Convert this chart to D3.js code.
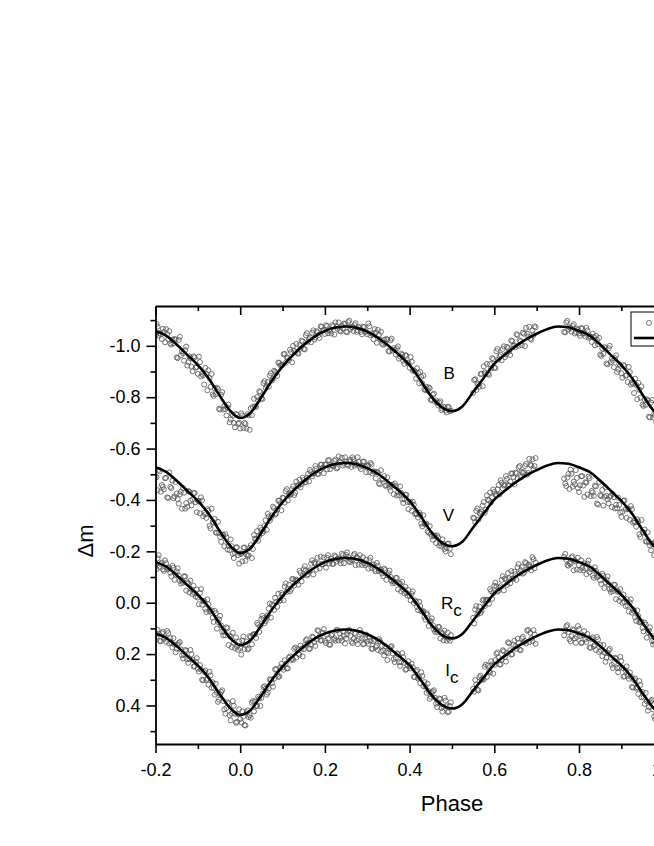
<!DOCTYPE html>
<html>
<head>
<meta charset="utf-8">
<script src="https://cdn.jsdelivr.net/npm/d3@7"></script>
<style>
  html, body { margin: 0; padding: 0; background: #fff; }
  svg { display: block; }
  text { font-family: "Liberation Sans", Arial, Helvetica, sans-serif; fill: #000; }
</style>
</head>
<body>
<svg id="chart" width="654" height="846"></svg>
<script>
// ---------------- DATA ----------------
const xMajor = [-0.2, 0.0, 0.2, 0.4, 0.6, 0.8, 1.0, 1.2];
const xMajorLabels = ["-0.2", "0.0", "0.2", "0.4", "0.6", "0.8", "1.0", "1.2"];
const xMinor = [-0.1, 0.1, 0.3, 0.5, 0.7, 0.9, 1.1];
const yMajor = [-1.0, -0.8, -0.6, -0.4, -0.2, 0.0, 0.2, 0.4];
const yMajorLabels = ["-1.0", "-0.8", "-0.6", "-0.4", "-0.2", "0.0", "0.2", "0.4"];
const yMinor = [-1.1, -0.9, -0.7, -0.5, -0.3, -0.1, 0.1, 0.3, 0.5];

const bands = ["B", "V", "Rc", "Ic"];

// theoretical light-curve (fit) values, sampled in phase
const fitPhase = [-0.200,-0.175,-0.150,-0.125,-0.100,-0.075,-0.050,-0.025,0.000,0.025,0.050,0.075,0.100,0.125,0.150,0.175,0.200,0.225,0.250,0.275,0.300,0.325,0.350,0.375,0.400,0.425,0.450,0.475,0.500,0.525,0.550,0.575,0.600,0.625,0.650,0.675,0.700,0.725,0.750,0.775,0.800,0.825,0.850,0.875,0.900,0.925,0.950,0.975,1.000,1.025,1.050,1.075,1.100,1.125,1.150,1.175,1.200];
const fitB = [-1.058,-1.040,-1.005,-0.965,-0.925,-0.875,-0.810,-0.750,-0.719,-0.740,-0.800,-0.865,-0.920,-0.965,-1.003,-1.035,-1.058,-1.071,-1.075,-1.070,-1.055,-1.032,-1.000,-0.965,-0.925,-0.868,-0.805,-0.762,-0.746,-0.765,-0.820,-0.875,-0.930,-0.965,-0.998,-1.025,-1.047,-1.065,-1.075,-1.072,-1.058,-1.040,-1.005,-0.965,-0.925,-0.875,-0.810,-0.750,-0.719,-0.740,-0.800,-0.865,-0.920,-0.965,-1.003,-1.035,-1.058];
const fitV = [-0.527,-0.509,-0.475,-0.436,-0.396,-0.347,-0.283,-0.224,-0.193,-0.214,-0.273,-0.337,-0.391,-0.436,-0.473,-0.505,-0.527,-0.540,-0.544,-0.539,-0.524,-0.502,-0.470,-0.436,-0.396,-0.340,-0.278,-0.235,-0.220,-0.238,-0.293,-0.347,-0.401,-0.436,-0.468,-0.495,-0.516,-0.534,-0.544,-0.541,-0.527,-0.509,-0.475,-0.436,-0.396,-0.347,-0.283,-0.224,-0.193,-0.214,-0.273,-0.337,-0.391,-0.436,-0.473,-0.505,-0.527];
const fitRc = [-0.158,-0.141,-0.107,-0.069,-0.031,0.016,0.078,0.135,0.165,0.145,0.088,0.026,-0.026,-0.069,-0.105,-0.136,-0.158,-0.170,-0.174,-0.169,-0.155,-0.133,-0.103,-0.069,-0.031,0.023,0.083,0.124,0.139,0.121,0.069,0.016,-0.036,-0.069,-0.101,-0.126,-0.147,-0.164,-0.174,-0.171,-0.158,-0.141,-0.107,-0.069,-0.031,0.016,0.078,0.135,0.165,0.145,0.088,0.026,-0.026,-0.069,-0.105,-0.136,-0.158];
const fitIc = [0.120,0.137,0.169,0.207,0.244,0.291,0.352,0.408,0.437,0.417,0.361,0.300,0.249,0.207,0.171,0.141,0.120,0.108,0.104,0.109,0.123,0.144,0.174,0.207,0.244,0.298,0.356,0.397,0.412,0.394,0.342,0.291,0.240,0.207,0.176,0.151,0.130,0.113,0.104,0.107,0.120,0.137,0.169,0.207,0.244,0.291,0.352,0.408,0.437,0.417,0.361,0.300,0.249,0.207,0.171,0.141,0.120];

// observed points, first group [phase, delta m]
const obsB = [[-0.200,-1.043],[-0.195,-1.075],[-0.190,-1.049],[-0.185,-1.026],[-0.180,-1.054],[-0.175,-1.065],[-0.170,-1.026],[-0.165,-1.009],[-0.160,-1.024],[-0.155,-1.027],
[-0.150,-0.955],[-0.145,-1.023],[-0.140,-0.963],[-0.135,-0.971],[-0.130,-0.983],[-0.125,-0.923],[-0.120,-0.959],[-0.115,-0.919],[-0.110,-0.959],[-0.105,-0.915],
[-0.100,-0.891],[-0.095,-0.937],[-0.090,-0.891],[-0.085,-0.849],[-0.080,-0.891],[-0.075,-0.905],[-0.070,-0.840],[-0.065,-0.811],[-0.060,-0.834],[-0.055,-0.837],
[-0.050,-0.755],[-0.045,-0.810],[-0.040,-0.752],[-0.035,-0.754],[-0.030,-0.760],[-0.025,-0.702],[-0.020,-0.735],[-0.015,-0.700],[-0.010,-0.735],[-0.005,-0.697],
[0.000,-0.678],[0.005,-0.729],[0.010,-0.700],[0.015,-0.678],[0.020,-0.729],[0.025,-0.757],[0.030,-0.762],[0.035,-0.765],[0.040,-0.801],[0.045,-0.823],
[0.050,-0.795],[0.055,-0.855],[0.060,-0.836],[0.065,-0.859],[0.070,-0.884],[0.075,-0.865],[0.080,-0.903],[0.085,-0.894],[0.090,-0.935],[0.095,-0.924],
[0.100,-0.925],[0.105,-0.969],[0.110,-0.955],[0.115,-0.944],[0.120,-0.976],[0.125,-1.000],[0.130,-0.975],[0.135,-0.972],[0.140,-1.003],[0.145,-1.020],
[0.150,-0.988],[0.155,-1.041],[0.160,-1.016],[0.165,-1.032],[0.170,-1.051],[0.175,-1.025],[0.180,-1.057],[0.185,-1.042],[0.190,-1.076],[0.195,-1.059],
[0.200,-1.046],[0.205,-1.077],[0.210,-1.061],[0.215,-1.048],[0.220,-1.076],[0.225,-1.091],[0.230,-1.066],[0.235,-1.059],[0.240,-1.078],[0.245,-1.087],
[0.250,-1.055],[0.255,-1.092],[0.260,-1.065],[0.265,-1.072],[0.270,-1.081],[0.275,-1.054],[0.280,-1.073],[0.285,-1.054],[0.290,-1.075],[0.295,-1.054],
[0.300,-1.045],[0.305,-1.076],[0.310,-1.049],[0.315,-1.025],[0.320,-1.052],[0.325,-1.062],[0.330,-1.024],[0.335,-1.008],[0.340,-1.023],[0.345,-1.027],
[0.350,-0.980],[0.355,-1.021],[0.360,-0.981],[0.365,-0.984],[0.370,-0.990],[0.375,-0.950],[0.380,-0.970],[0.385,-0.942],[0.390,-0.964],[0.395,-0.933],
[0.400,-0.915],[0.405,-0.938],[0.410,-0.905],[0.415,-0.873],[0.420,-0.894],[0.425,-0.898],[0.430,-0.853],[0.435,-0.831],[0.440,-0.840],[0.445,-0.838],
[0.450,-0.790],[0.455,-0.810],[0.460,-0.782],[0.465,-0.779],[0.470,-0.779],[0.475,-0.750],[0.480,-0.763],[0.485,-0.748],[0.490,-0.763],[0.495,-0.746],
[0.550,-0.817],[0.555,-0.870],[0.560,-0.854],[0.565,-0.841],[0.570,-0.891],[0.575,-0.920],[0.580,-0.892],[0.585,-0.891],[0.590,-0.929],[0.595,-0.952],
[0.600,-0.915],[0.605,-0.979],[0.610,-0.947],[0.615,-0.966],[0.620,-0.988],[0.625,-0.956],[0.630,-0.996],[0.635,-0.978],[0.640,-1.021],[0.645,-1.000],
[0.650,-0.995],[0.655,-1.042],[0.660,-1.021],[0.665,-1.002],[0.670,-1.047],[0.675,-1.070],[0.680,-1.036],[0.685,-1.028],[0.690,-1.059],[0.695,-1.076],
[0.765,-1.054],[0.770,-1.091],[0.775,-1.064],[0.780,-1.069],[0.785,-1.077],[0.790,-1.048],[0.795,-1.067],[0.800,-1.048],[0.805,-1.069],[0.810,-1.047],
[0.815,-1.036],[0.820,-1.060],[0.825,-1.038],[0.830,-1.015],[0.835,-1.034],[0.840,-1.039],[0.845,-1.006],[0.850,-0.966],[0.855,-0.989],[0.860,-0.995],
[0.865,-0.931],[0.870,-0.990],[0.875,-0.936],[0.880,-0.942],[0.885,-0.952],[0.890,-0.898],[0.895,-0.929],[0.900,-0.893],[0.905,-0.925],[0.910,-0.883],
[0.915,-0.859],[0.920,-0.898],[0.925,-0.857],[0.930,-0.816],[0.935,-0.848],[0.940,-0.856],[0.945,-0.798],[0.950,-0.771],[0.955,-0.790],[0.960,-0.792],
[0.965,-0.724],[0.970,-0.779],[0.975,-0.721],[0.980,-0.729]];

const obsV = [[-0.200,-0.491],[-0.195,-0.438],[-0.190,-0.511],[-0.185,-0.458],[-0.180,-0.441],[-0.175,-0.486],[-0.170,-0.408],[-0.165,-0.451],[-0.160,-0.475],[-0.155,-0.414],
[-0.150,-0.425],[-0.145,-0.386],[-0.140,-0.432],[-0.135,-0.446],[-0.130,-0.366],[-0.125,-0.373],[-0.120,-0.432],[-0.115,-0.379],[-0.110,-0.427],[-0.105,-0.391],
[-0.100,-0.397],[-0.095,-0.348],[-0.090,-0.398],[-0.085,-0.350],[-0.080,-0.330],[-0.075,-0.358],[-0.070,-0.289],[-0.065,-0.315],[-0.060,-0.326],[-0.055,-0.272],
[-0.050,-0.273],[-0.045,-0.237],[-0.040,-0.264],[-0.035,-0.267],[-0.030,-0.207],[-0.025,-0.205],[-0.020,-0.220],[-0.015,-0.174],[-0.010,-0.215],[-0.005,-0.185],
[0.000,-0.192],[0.005,-0.161],[0.010,-0.215],[0.015,-0.187],[0.020,-0.184],[0.025,-0.224],[0.030,-0.209],[0.035,-0.249],[0.040,-0.279],[0.045,-0.261],
[0.050,-0.283],[0.055,-0.279],[0.060,-0.321],[0.065,-0.346],[0.070,-0.319],[0.075,-0.340],[0.080,-0.368],[0.085,-0.347],[0.090,-0.397],[0.095,-0.388],
[0.100,-0.409],[0.105,-0.390],[0.110,-0.442],[0.115,-0.423],[0.120,-0.422],[0.125,-0.453],[0.130,-0.428],[0.135,-0.457],[0.140,-0.479],[0.145,-0.462],
[0.150,-0.478],[0.155,-0.470],[0.160,-0.501],[0.165,-0.517],[0.170,-0.492],[0.175,-0.504],[0.180,-0.522],[0.185,-0.501],[0.190,-0.537],[0.195,-0.526],
[0.200,-0.538],[0.205,-0.519],[0.210,-0.555],[0.215,-0.536],[0.220,-0.532],[0.225,-0.557],[0.230,-0.526],[0.235,-0.549],[0.240,-0.564],[0.245,-0.541],
[0.250,-0.549],[0.255,-0.534],[0.260,-0.557],[0.265,-0.566],[0.270,-0.533],[0.275,-0.538],[0.280,-0.549],[0.285,-0.520],[0.290,-0.549],[0.295,-0.530],
[0.300,-0.535],[0.305,-0.509],[0.310,-0.538],[0.315,-0.512],[0.320,-0.484],[0.325,-0.507],[0.330,-0.461],[0.335,-0.483],[0.340,-0.493],[0.345,-0.457],
[0.350,-0.460],[0.355,-0.436],[0.360,-0.459],[0.365,-0.464],[0.370,-0.417],[0.375,-0.419],[0.380,-0.428],[0.385,-0.388],[0.390,-0.420],[0.395,-0.392],
[0.400,-0.392],[0.405,-0.358],[0.410,-0.381],[0.415,-0.348],[0.420,-0.331],[0.425,-0.342],[0.430,-0.297],[0.435,-0.307],[0.440,-0.308],[0.445,-0.273],
[0.450,-0.268],[0.455,-0.245],[0.460,-0.261],[0.465,-0.262],[0.470,-0.222],[0.475,-0.219],[0.480,-0.229],[0.485,-0.200],[0.490,-0.230],[0.495,-0.211],
[0.550,-0.331],[0.555,-0.313],[0.560,-0.367],[0.565,-0.350],[0.570,-0.354],[0.575,-0.392],[0.580,-0.363],[0.585,-0.401],[0.590,-0.429],[0.595,-0.410],
[0.600,-0.431],[0.605,-0.421],[0.610,-0.458],[0.615,-0.477],[0.620,-0.444],[0.625,-0.459],[0.630,-0.482],[0.635,-0.456],[0.640,-0.503],[0.645,-0.489],
[0.650,-0.506],[0.655,-0.483],[0.660,-0.532],[0.665,-0.509],[0.670,-0.508],[0.675,-0.540],[0.680,-0.505],[0.685,-0.537],[0.690,-0.558],[0.695,-0.532],
[0.765,-0.483],[0.770,-0.454],[0.775,-0.501],[0.780,-0.518],[0.785,-0.452],[0.790,-0.461],[0.795,-0.486],[0.800,-0.431],[0.805,-0.492],[0.810,-0.456],
[0.815,-0.469],[0.820,-0.421],[0.825,-0.485],[0.830,-0.435],[0.835,-0.416],[0.840,-0.453],[0.845,-0.382],[0.850,-0.419],[0.855,-0.439],[0.860,-0.412],
[0.865,-0.416],[0.870,-0.387],[0.875,-0.416],[0.880,-0.423],[0.885,-0.367],[0.890,-0.368],[0.895,-0.381],[0.900,-0.334],[0.905,-0.397],[0.910,-0.363],
[0.915,-0.366],[0.920,-0.323],[0.925,-0.364],[0.930,-0.318],[0.935,-0.296],[0.940,-0.316],[0.945,-0.256],[0.950,-0.276],[0.955,-0.285],[0.960,-0.237],
[0.965,-0.237],[0.970,-0.204],[0.975,-0.229],[0.980,-0.238]];

const obsRc = [[-0.200,-0.153],[-0.195,-0.173],[-0.190,-0.139],[-0.185,-0.156],[-0.180,-0.124],[-0.175,-0.154],[-0.170,-0.134],[-0.165,-0.117],[-0.160,-0.144],[-0.155,-0.089],
[-0.150,-0.122],[-0.145,-0.105],[-0.140,-0.075],[-0.135,-0.078],[-0.130,-0.102],[-0.125,-0.079],[-0.120,-0.040],[-0.115,-0.052],[-0.110,-0.066],[-0.105,-0.024],
[-0.100,-0.020],[-0.095,-0.038],[-0.090,0.008],[-0.085,-0.007],[-0.080,0.036],[-0.075,0.006],[-0.070,0.034],[-0.065,0.058],[-0.060,0.032],[-0.055,0.101],
[-0.050,0.065],[-0.045,0.089],[-0.040,0.127],[-0.035,0.127],[-0.030,0.099],[-0.025,0.128],[-0.020,0.173],[-0.015,0.156],[-0.010,0.135],[-0.005,0.183],
[0.000,0.176],[0.005,0.147],[0.010,0.180],[0.015,0.151],[0.020,0.179],[0.025,0.133],[0.030,0.125],[0.035,0.123],[0.040,0.079],[0.045,0.114],
[0.050,0.063],[0.055,0.060],[0.060,0.071],[0.065,0.049],[0.070,0.003],[0.075,0.006],[0.080,0.028],[0.085,-0.003],[0.090,-0.035],[0.095,-0.011],
[0.100,-0.031],[0.105,-0.063],[0.110,-0.042],[0.115,-0.070],[0.120,-0.051],[0.125,-0.092],[0.130,-0.087],[0.135,-0.084],[0.140,-0.124],[0.145,-0.083],
[0.150,-0.130],[0.155,-0.126],[0.160,-0.111],[0.165,-0.127],[0.170,-0.165],[0.175,-0.156],[0.180,-0.129],[0.185,-0.153],[0.190,-0.179],[0.195,-0.149],
[0.200,-0.154],[0.205,-0.175],[0.210,-0.153],[0.215,-0.171],[0.220,-0.151],[0.225,-0.180],[0.230,-0.171],[0.235,-0.164],[0.240,-0.191],[0.245,-0.154],
[0.250,-0.186],[0.255,-0.177],[0.260,-0.158],[0.265,-0.165],[0.270,-0.190],[0.275,-0.177],[0.280,-0.148],[0.285,-0.162],[0.290,-0.177],[0.295,-0.146],
[0.300,-0.151],[0.305,-0.165],[0.310,-0.136],[0.315,-0.149],[0.320,-0.122],[0.325,-0.143],[0.330,-0.127],[0.335,-0.114],[0.340,-0.133],[0.345,-0.089],
[0.350,-0.115],[0.355,-0.100],[0.360,-0.075],[0.365,-0.077],[0.370,-0.096],[0.375,-0.077],[0.380,-0.044],[0.385,-0.052],[0.390,-0.062],[0.395,-0.027],
[0.400,-0.027],[0.405,-0.034],[0.410,0.001],[0.415,-0.004],[0.420,0.029],[0.425,0.013],[0.430,0.035],[0.435,0.055],[0.440,0.041],[0.445,0.091],
[0.450,0.071],[0.455,0.088],[0.460,0.113],[0.465,0.114],[0.470,0.095],[0.475,0.116],[0.480,0.146],[0.485,0.133],[0.490,0.117],[0.495,0.148],
[0.550,0.059],[0.555,0.026],[0.560,0.046],[0.565,0.015],[0.570,0.032],[0.575,-0.012],[0.580,-0.009],[0.585,-0.010],[0.590,-0.053],[0.595,-0.015],
[0.600,-0.066],[0.605,-0.063],[0.610,-0.047],[0.615,-0.064],[0.620,-0.103],[0.625,-0.094],[0.630,-0.069],[0.635,-0.095],[0.640,-0.123],[0.645,-0.094],
[0.650,-0.111],[0.655,-0.138],[0.660,-0.114],[0.665,-0.139],[0.670,-0.117],[0.675,-0.154],[0.680,-0.146],[0.685,-0.140],[0.690,-0.177],[0.695,-0.134],
[0.765,-0.178],[0.770,-0.167],[0.775,-0.144],[0.780,-0.151],[0.785,-0.181],[0.790,-0.164],[0.795,-0.129],[0.800,-0.146],[0.805,-0.165],[0.810,-0.126],
[0.815,-0.133],[0.820,-0.152],[0.825,-0.119],[0.830,-0.132],[0.835,-0.097],[0.840,-0.124],[0.845,-0.104],[0.850,-0.087],[0.855,-0.113],[0.860,-0.057],
[0.865,-0.090],[0.870,-0.072],[0.875,-0.042],[0.880,-0.045],[0.885,-0.069],[0.890,-0.046],[0.895,-0.007],[0.900,-0.019],[0.905,-0.032],[0.910,0.013],
[0.915,0.012],[0.920,-0.001],[0.925,0.039],[0.930,0.032],[0.935,0.071],[0.940,0.052],[0.945,0.076],[0.950,0.098],[0.955,0.078],[0.960,0.136],
[0.965,0.108],[0.970,0.129],[0.975,0.163],[0.980,0.159]];

const obsIc = [[-0.200,0.123],[-0.195,0.106],[-0.190,0.149],[-0.185,0.119],[-0.180,0.141],[-0.175,0.152],[-0.170,0.118],[-0.165,0.138],[-0.160,0.174],[-0.155,0.163],
[-0.150,0.179],[-0.145,0.157],[-0.140,0.182],[-0.135,0.217],[-0.130,0.184],[-0.125,0.220],[-0.120,0.219],[-0.115,0.200],[-0.110,0.249],[-0.105,0.230],
[-0.100,0.257],[-0.095,0.243],[-0.090,0.300],[-0.085,0.270],[-0.080,0.301],[-0.075,0.319],[-0.070,0.283],[-0.065,0.310],[-0.060,0.358],[-0.055,0.350],
[-0.050,0.378],[-0.045,0.347],[-0.040,0.383],[-0.035,0.432],[-0.030,0.388],[-0.025,0.438],[-0.020,0.432],[-0.015,0.401],[-0.010,0.467],[-0.005,0.434],
[0.000,0.453],[0.005,0.423],[0.010,0.476],[0.015,0.426],[0.020,0.445],[0.025,0.448],[0.030,0.383],[0.035,0.384],[0.040,0.402],[0.045,0.372],
[0.050,0.371],[0.055,0.329],[0.060,0.335],[0.065,0.350],[0.070,0.298],[0.075,0.313],[0.080,0.295],[0.085,0.258],[0.090,0.289],[0.095,0.252],
[0.100,0.252],[0.105,0.224],[0.110,0.255],[0.115,0.214],[0.120,0.223],[0.125,0.222],[0.130,0.174],[0.135,0.181],[0.140,0.203],[0.145,0.179],
[0.150,0.181],[0.155,0.146],[0.160,0.157],[0.165,0.179],[0.170,0.132],[0.175,0.154],[0.180,0.142],[0.185,0.110],[0.190,0.148],[0.195,0.117],
[0.200,0.148],[0.205,0.125],[0.210,0.163],[0.215,0.127],[0.220,0.144],[0.225,0.148],[0.230,0.107],[0.235,0.119],[0.240,0.148],[0.245,0.129],
[0.250,0.139],[0.255,0.110],[0.260,0.129],[0.265,0.157],[0.270,0.118],[0.275,0.147],[0.280,0.141],[0.285,0.117],[0.290,0.162],[0.295,0.138],
[0.300,0.151],[0.305,0.134],[0.310,0.179],[0.315,0.150],[0.320,0.173],[0.325,0.184],[0.330,0.150],[0.335,0.168],[0.340,0.205],[0.345,0.193],
[0.350,0.196],[0.355,0.173],[0.360,0.197],[0.365,0.231],[0.370,0.197],[0.375,0.232],[0.380,0.231],[0.385,0.212],[0.390,0.261],[0.395,0.242],
[0.400,0.247],[0.405,0.238],[0.410,0.289],[0.415,0.267],[0.420,0.295],[0.425,0.313],[0.430,0.285],[0.435,0.309],[0.440,0.351],[0.445,0.344],
[0.450,0.366],[0.455,0.345],[0.460,0.370],[0.465,0.406],[0.470,0.373],[0.475,0.410],[0.480,0.405],[0.485,0.381],[0.490,0.426],[0.495,0.402],
[0.550,0.335],[0.555,0.301],[0.560,0.339],[0.565,0.290],[0.570,0.300],[0.575,0.299],[0.580,0.241],[0.585,0.245],[0.590,0.271],[0.595,0.240],
[0.600,0.242],[0.605,0.199],[0.610,0.213],[0.615,0.240],[0.620,0.185],[0.625,0.212],[0.630,0.196],[0.635,0.158],[0.640,0.202],[0.645,0.164],
[0.650,0.169],[0.655,0.140],[0.660,0.183],[0.665,0.139],[0.670,0.154],[0.675,0.159],[0.680,0.106],[0.685,0.117],[0.690,0.150],[0.695,0.124],
[0.765,0.127],[0.770,0.092],[0.775,0.114],[0.780,0.150],[0.785,0.103],[0.790,0.139],[0.795,0.133],[0.800,0.103],[0.805,0.157],[0.810,0.127],
[0.815,0.142],[0.820,0.122],[0.825,0.174],[0.830,0.141],[0.835,0.169],[0.840,0.184],[0.845,0.143],[0.850,0.164],[0.855,0.208],[0.860,0.194],
[0.865,0.214],[0.870,0.185],[0.875,0.214],[0.880,0.254],[0.885,0.214],[0.890,0.254],[0.895,0.253],[0.900,0.227],[0.905,0.288],[0.910,0.264],
[0.915,0.285],[0.920,0.271],[0.925,0.328],[0.930,0.301],[0.935,0.334],[0.940,0.355],[0.945,0.320],[0.950,0.347],[0.955,0.394],[0.960,0.384],
[0.965,0.407],[0.970,0.383],[0.975,0.415],[0.980,0.453]];

// observed points, second group: shared phases + per-band delta m
const obsPhase2 = [-0.1975,-0.1925,-0.1875,-0.1825,-0.1775,-0.1725,-0.1675,-0.1625,-0.1575,-0.1525,
-0.1475,-0.1425,-0.1375,-0.1325,-0.1275,-0.1225,-0.1175,-0.1125,-0.1075,-0.1025,
-0.0975,-0.0925,-0.0875,-0.0825,-0.0775,-0.0725,-0.0675,-0.0625,-0.0575,-0.0525,
-0.0475,-0.0425,-0.0375,-0.0325,-0.0275,-0.0225,-0.0175,-0.0125,-0.0075,-0.0025,
0.0025,0.0075,0.0125,0.0175,0.0225,0.0275,0.0325,0.0375,0.0425,0.0475,
0.0525,0.0575,0.0625,0.0675,0.0725,0.0775,0.0825,0.0875,0.0925,0.0975,
0.1025,0.1075,0.1125,0.1175,0.1225,0.1275,0.1325,0.1375,0.1425,0.1475,
0.1525,0.1575,0.1625,0.1675,0.1725,0.1775,0.1825,0.1875,0.1925,0.1975,
0.2025,0.2075,0.2125,0.2175,0.2225,0.2275,0.2325,0.2375,0.2425,0.2475,
0.2525,0.2575,0.2625,0.2675,0.2725,0.2775,0.2825,0.2875,0.2925,0.2975,
0.3025,0.3075,0.3125,0.3175,0.3225,0.3275,0.3325,0.3375,0.3425,0.3475,
0.3525,0.3575,0.3625,0.3675,0.3725,0.3775,0.3825,0.3875,0.3925,0.3975,
0.4025,0.4075,0.4125,0.4175,0.4225,0.4275,0.4325,0.4375,0.4425,0.4475,
0.4525,0.4575,0.4625,0.4675,0.4725,0.4775,0.4825,0.4875,0.4925,0.4975,
0.5525,0.5575,0.5625,0.5675,0.5725,0.5775,0.5825,0.5875,0.5925,0.5975,
0.6025,0.6075,0.6125,0.6175,0.6225,0.6275,0.6325,0.6375,0.6425,0.6475,
0.6525,0.6575,0.6625,0.6675,0.6725,0.6775,0.6825,0.6875,0.6925,0.6975,
0.7675,0.7725,0.7775,0.7825,0.7875,0.7925,0.7975,0.8025,0.8075,0.8125,
0.8175,0.8225,0.8275,0.8325,0.8375,0.8425,0.8475,0.8525,0.8575,0.8625,
0.8675,0.8725,0.8775,0.8825,0.8875,0.8925,0.8975,0.9025,0.9075,0.9125,
0.9175,0.9225,0.9275,0.9325,0.9375,0.9425,0.9475,0.9525,0.9575,0.9625,
0.9675,0.9725,0.9775,0.9825];

const obsB2 = [-1.085,-1.040,-1.045,-1.066,-1.014,-1.046,-1.057,-1.005,-1.010,-1.024,
-0.952,-1.035,-0.979,-0.942,-0.997,-0.936,-0.952,-0.901,-0.955,-0.918,
-0.958,-0.881,-0.885,-0.914,-0.827,-0.875,-0.890,-0.805,-0.812,-0.832,
-0.752,-0.820,-0.766,-0.729,-0.771,-0.713,-0.728,-0.683,-0.731,-0.700,
-0.737,-0.680,-0.696,-0.734,-0.673,-0.730,-0.794,-0.762,-0.787,-0.820,
-0.793,-0.863,-0.846,-0.841,-0.893,-0.873,-0.899,-0.883,-0.933,-0.926,
-0.967,-0.934,-0.952,-0.985,-0.936,-0.981,-1.007,-0.969,-0.989,-1.017,
-0.986,-1.049,-1.026,-1.014,-1.060,-1.033,-1.053,-1.031,-1.074,-1.061,
-1.080,-1.049,-1.058,-1.080,-1.044,-1.076,-1.091,-1.056,-1.067,-1.085,
-1.053,-1.098,-1.073,-1.058,-1.088,-1.060,-1.069,-1.045,-1.073,-1.056,
-1.087,-1.041,-1.045,-1.065,-1.012,-1.043,-1.055,-1.004,-1.009,-1.024,
-0.978,-1.028,-0.991,-0.966,-0.998,-0.958,-0.965,-0.930,-0.961,-0.935,
-0.957,-0.903,-0.901,-0.913,-0.854,-0.879,-0.884,-0.827,-0.826,-0.835,
-0.789,-0.814,-0.788,-0.768,-0.784,-0.755,-0.760,-0.741,-0.761,-0.747,
-0.867,-0.828,-0.850,-0.890,-0.843,-0.897,-0.930,-0.887,-0.912,-0.948,
-0.913,-0.988,-0.959,-0.944,-0.998,-0.966,-0.991,-0.964,-1.018,-1.002,
-1.045,-1.000,-1.017,-1.051,-0.999,-1.047,-1.074,-1.024,-1.042,-1.072,
-1.052,-1.097,-1.072,-1.055,-1.084,-1.054,-1.063,-1.039,-1.067,-1.049,
-1.070,-1.032,-1.035,-1.047,-1.002,-1.024,-1.031,-0.961,-0.969,-0.991,
-0.928,-1.000,-0.950,-0.917,-0.963,-0.909,-0.922,-0.876,-0.921,-0.886,
-0.918,-0.849,-0.852,-0.872,-0.792,-0.829,-0.842,-0.766,-0.770,-0.788,
-0.721,-0.789,-0.735,-0.704];

const obsV2 = [-0.488,-0.517,-0.432,-0.451,-0.485,-0.410,-0.507,-0.446,-0.407,-0.470,
-0.403,-0.422,-0.366,-0.428,-0.388,-0.435,-0.397,-0.402,-0.427,-0.352,
-0.394,-0.410,-0.337,-0.344,-0.364,-0.299,-0.366,-0.311,-0.273,-0.315,
-0.256,-0.265,-0.220,-0.255,-0.221,-0.246,-0.190,-0.194,-0.216,-0.152,
-0.190,-0.214,-0.163,-0.182,-0.213,-0.174,-0.264,-0.246,-0.241,-0.292,
-0.271,-0.299,-0.284,-0.336,-0.331,-0.374,-0.343,-0.363,-0.397,-0.360,
-0.407,-0.434,-0.398,-0.419,-0.442,-0.419,-0.472,-0.455,-0.449,-0.487,
-0.468,-0.486,-0.472,-0.509,-0.502,-0.532,-0.502,-0.514,-0.537,-0.504,
-0.537,-0.554,-0.520,-0.533,-0.552,-0.523,-0.570,-0.547,-0.534,-0.566,
-0.539,-0.550,-0.528,-0.558,-0.543,-0.566,-0.529,-0.533,-0.549,-0.508,
-0.534,-0.544,-0.503,-0.509,-0.509,-0.465,-0.516,-0.480,-0.455,-0.488,
-0.448,-0.456,-0.422,-0.454,-0.429,-0.453,-0.403,-0.404,-0.420,-0.364,
-0.391,-0.393,-0.346,-0.345,-0.351,-0.308,-0.341,-0.305,-0.278,-0.298,
-0.258,-0.261,-0.232,-0.254,-0.232,-0.247,-0.209,-0.213,-0.230,-0.189,
-0.329,-0.357,-0.323,-0.346,-0.378,-0.350,-0.418,-0.398,-0.391,-0.441,
-0.419,-0.441,-0.421,-0.467,-0.456,-0.493,-0.457,-0.472,-0.503,-0.461,
-0.504,-0.527,-0.488,-0.505,-0.532,-0.498,-0.560,-0.534,-0.520,-0.563,
-0.464,-0.487,-0.443,-0.502,-0.471,-0.516,-0.446,-0.457,-0.493,-0.412,
-0.467,-0.491,-0.415,-0.429,-0.455,-0.386,-0.470,-0.415,-0.378,-0.449,
-0.402,-0.412,-0.372,-0.411,-0.381,-0.409,-0.351,-0.354,-0.398,-0.330,
-0.364,-0.376,-0.312,-0.313,-0.325,-0.266,-0.322,-0.273,-0.239,-0.274,
-0.223,-0.229,-0.185,-0.226];

const obsRc2 = [-0.131,-0.185,-0.151,-0.130,-0.165,-0.129,-0.137,-0.103,-0.136,-0.111,
-0.134,-0.085,-0.086,-0.103,-0.047,-0.075,-0.086,-0.033,-0.037,-0.051,
0.006,-0.053,-0.007,0.024,-0.013,0.035,0.030,0.075,0.041,0.075,
0.051,0.113,0.113,0.096,0.165,0.133,0.117,0.178,0.170,0.151,
0.202,0.132,0.165,0.182,0.130,0.162,0.122,0.137,0.086,0.092,
0.051,0.080,0.059,0.023,0.058,0.010,-0.019,0.016,-0.006,-0.038,
-0.009,-0.075,-0.054,-0.044,-0.092,-0.067,-0.090,-0.070,-0.116,-0.105,
-0.142,-0.106,-0.122,-0.152,-0.110,-0.152,-0.175,-0.134,-0.150,-0.176,
-0.136,-0.185,-0.163,-0.151,-0.184,-0.160,-0.173,-0.153,-0.185,-0.172,
-0.196,-0.161,-0.167,-0.185,-0.146,-0.174,-0.185,-0.147,-0.154,-0.168,
-0.133,-0.175,-0.146,-0.129,-0.155,-0.123,-0.129,-0.103,-0.127,-0.107,
-0.125,-0.084,-0.084,-0.097,-0.052,-0.074,-0.081,-0.037,-0.039,-0.049,
-0.009,-0.044,-0.009,0.016,-0.004,0.033,0.033,0.066,0.047,0.073,
0.061,0.104,0.104,0.094,0.139,0.119,0.109,0.148,0.140,0.126,
0.081,0.013,0.033,0.040,-0.009,0.013,-0.012,0.004,-0.045,-0.037,
-0.078,-0.043,-0.058,-0.089,-0.048,-0.090,-0.115,-0.076,-0.094,-0.121,
-0.089,-0.150,-0.126,-0.113,-0.158,-0.129,-0.149,-0.126,-0.169,-0.156,
-0.190,-0.147,-0.155,-0.176,-0.126,-0.160,-0.175,-0.127,-0.136,-0.153,
-0.111,-0.164,-0.131,-0.106,-0.138,-0.099,-0.107,-0.073,-0.105,-0.079,
-0.102,-0.052,-0.053,-0.070,-0.014,-0.042,-0.053,0.000,-0.003,-0.014,
0.034,-0.013,0.026,0.057,0.030,0.076,0.073,0.112,0.085,0.114,
0.096,0.149,0.151,0.133];

const obsIc2 = [0.132,0.120,0.150,0.114,0.136,0.110,0.158,0.156,0.138,0.193,
0.163,0.153,0.205,0.201,0.187,0.234,0.184,0.222,0.247,0.216,
0.268,0.260,0.302,0.264,0.296,0.269,0.331,0.332,0.315,0.386,
0.356,0.341,0.415,0.410,0.392,0.458,0.383,0.432,0.464,0.415,
0.466,0.443,0.478,0.419,0.438,0.389,0.423,0.402,0.366,0.402,
0.355,0.325,0.358,0.334,0.301,0.327,0.260,0.280,0.287,0.238,
0.261,0.238,0.256,0.209,0.218,0.180,0.214,0.199,0.167,0.209,
0.165,0.142,0.180,0.163,0.135,0.168,0.107,0.132,0.146,0.103,
0.157,0.139,0.164,0.122,0.139,0.106,0.147,0.137,0.112,0.159,
0.123,0.106,0.152,0.141,0.121,0.161,0.106,0.139,0.160,0.124,
0.160,0.148,0.180,0.145,0.168,0.142,0.190,0.186,0.169,0.223,
0.180,0.169,0.220,0.215,0.200,0.246,0.196,0.234,0.259,0.228,
0.256,0.252,0.290,0.262,0.290,0.271,0.325,0.327,0.315,0.374,
0.350,0.341,0.393,0.390,0.376,0.424,0.370,0.403,0.424,0.388,
0.346,0.318,0.341,0.284,0.295,0.249,0.289,0.267,0.228,0.276,
0.223,0.194,0.241,0.221,0.189,0.229,0.154,0.185,0.200,0.148,
0.180,0.157,0.185,0.133,0.149,0.109,0.154,0.139,0.107,0.160,
0.108,0.087,0.142,0.131,0.107,0.156,0.091,0.130,0.155,0.111,
0.153,0.139,0.176,0.135,0.164,0.134,0.191,0.186,0.165,0.230,
0.195,0.180,0.242,0.235,0.218,0.271,0.211,0.254,0.286,0.248,
0.296,0.288,0.330,0.295,0.329,0.305,0.368,0.369,0.351,0.420,
0.388,0.378,0.443,0.434];

// band label anchor positions in data space [phase, delta m]
const labelPos = { B: [0.480, -0.870], V: [0.478, -0.317], Rc: [0.474, 0.023], Ic: [0.484, 0.285] };

// ---------------- DRAW ----------------
const svg = d3.select("#chart");
const x = d3.scaleLinear().domain([-0.2, 1.2]).range([155.5, 748.4]);
const y = d3.scaleLinear().domain([-1.155, 0.55]).range([306, 744]);
const [x0, x1] = x.range();
const [y0, y1] = y.range();

svg.append("defs").append("clipPath").attr("id", "plotclip")
  .append("rect").attr("x", x0).attr("y", y0).attr("width", x1 - x0).attr("height", y1 - y0);

const plot = svg.append("g").attr("clip-path", "url(#plotclip)");

const obsAll = {
  B: obsB.concat(obsPhase2.map((p, i) => [p, obsB2[i]])),
  V: obsV.concat(obsPhase2.map((p, i) => [p, obsV2[i]])),
  Rc: obsRc.concat(obsPhase2.map((p, i) => [p, obsRc2[i]])),
  Ic: obsIc.concat(obsPhase2.map((p, i) => [p, obsIc2[i]]))
};
const fitAll = { B: fitB, V: fitV, Rc: fitRc, Ic: fitIc };

const markR = 2.5;
bands.forEach(b => {
  plot.append("g").selectAll("circle").data(obsAll[b]).join("circle")
    .attr("cx", d => x(d[0])).attr("cy", d => y(d[1])).attr("r", markR)
    .attr("fill", "none").attr("stroke", "#555").attr("stroke-width", 0.8);
});

const line = d3.line().x(d => x(d[0])).y(d => y(d[1])).curve(d3.curveMonotoneX);
bands.forEach(b => {
  const pts = fitPhase.map((p, i) => [p, fitAll[b][i]]);
  plot.append("path").datum(pts).attr("d", line)
    .attr("fill", "none").attr("stroke", "#000").attr("stroke-width", 2.6)
    .attr("stroke-linejoin", "round");
});

// axes
const tickFont = 18;
function styleAxis(g, width) {
  g.selectAll(".domain").attr("stroke", "#000").attr("stroke-width", width);
  g.selectAll(".tick line").attr("stroke", "#000").attr("stroke-width", 1.6);
  g.selectAll(".tick text").attr("font-size", tickFont)
    .attr("font-family", '"Liberation Sans", Arial, sans-serif').attr("fill", "#000");
}

// bottom
const gB = svg.append("g").attr("transform", `translate(0,${y1})`)
  .call(d3.axisBottom(x).tickValues(xMajor).tickSize(9).tickSizeOuter(0).tickPadding(10)
    .tickFormat((d, i) => xMajorLabels[i]));
styleAxis(gB, 1.8);
const gBm = svg.append("g").attr("transform", `translate(0,${y1})`)
  .call(d3.axisBottom(x).tickValues(xMinor).tickSize(5).tickFormat(""));
gBm.select(".domain").remove(); styleAxis(gBm, 1.8);

// top
const gT = svg.append("g").attr("transform", `translate(0,${y0})`)
  .call(d3.axisTop(x).tickValues(xMajor).tickSize(-9).tickSizeOuter(0).tickFormat(""));
styleAxis(gT, 1.8);
const gTm = svg.append("g").attr("transform", `translate(0,${y0})`)
  .call(d3.axisTop(x).tickValues(xMinor).tickSize(-5).tickFormat(""));
gTm.select(".domain").remove(); styleAxis(gTm, 1.8);

// left
const gL = svg.append("g").attr("transform", `translate(${x0},0)`)
  .call(d3.axisLeft(y).tickValues(yMajor).tickSize(9).tickSizeOuter(0).tickPadding(6)
    .tickFormat((d, i) => yMajorLabels[i]));
styleAxis(gL, 1.8);
const gLm = svg.append("g").attr("transform", `translate(${x0},0)`)
  .call(d3.axisLeft(y).tickValues(yMinor).tickSize(5).tickFormat(""));
gLm.select(".domain").remove(); styleAxis(gLm, 1.8);

// right (mirror, inward)
const gR = svg.append("g").attr("transform", `translate(${x1},0)`)
  .call(d3.axisRight(y).tickValues(yMajor).tickSize(-9).tickSizeOuter(0).tickFormat(""));
styleAxis(gR, 1.8);

// axis titles
svg.append("text").attr("x", 452).attr("y", 811).attr("text-anchor", "middle")
  .attr("font-size", 22).text("Phase");
svg.append("text").attr("transform", "translate(93,541) rotate(-90)")
  .attr("text-anchor", "middle").attr("font-size", 22).text("Δm");

// band labels
const lblFont = 17;
function bandLabel(main, sub, pos) {
  const t = svg.append("text").attr("x", x(pos[0])).attr("y", y(pos[1]))
    .attr("font-size", lblFont);
  t.append("tspan").text(main);
  if (sub) t.append("tspan").attr("dy", 7).text(sub);
}
bandLabel("B", null, labelPos.B);
bandLabel("V", null, labelPos.V);
bandLabel("R", "c", labelPos.Rc);
bandLabel("I", "c", labelPos.Ic);

// legend (cropped at the right edge of the figure)
const lg = svg.append("g");
lg.append("rect").attr("x", 631).attr("y", 312).attr("width", 110).attr("height", 34)
  .attr("fill", "#fff").attr("stroke", "#000").attr("stroke-width", 1);
lg.append("circle").attr("cx", 649).attr("cy", 323).attr("r", markR)
  .attr("fill", "none").attr("stroke", "#555").attr("stroke-width", 0.8);
lg.append("line").attr("x1", 634).attr("x2", 664).attr("y1", 338).attr("y2", 338)
  .attr("stroke", "#000").attr("stroke-width", 2.6);
</script>
</body>
</html>
